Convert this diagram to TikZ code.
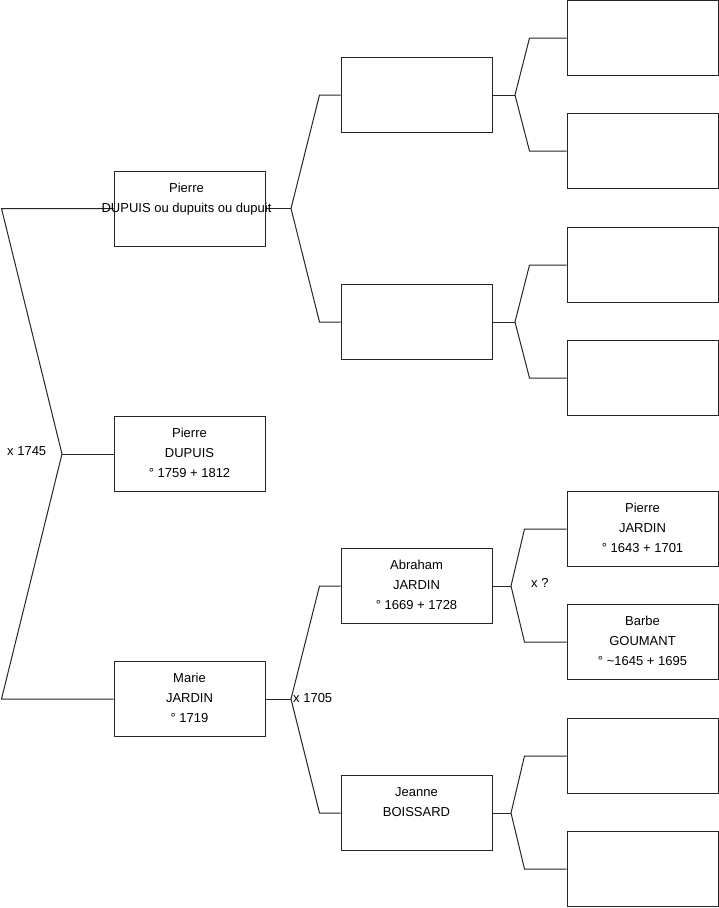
\documentclass[tikz,border=0pt]{standalone}
\usepackage{fontspec}
\setmainfont{Liberation Sans}
\begin{document}
\begin{tikzpicture}[x=1pt,y=-1pt,
  pbox/.style={draw=black!85,line width=1pt,fill=white,minimum width=151pt,minimum height=75pt,inner sep=0pt},
  txt/.style={anchor=north,align=center,inner sep=0pt,font=\fontsize{13pt}{20pt}\selectfont},
  lbl/.style={inner sep=0pt,font=\fontsize{13pt}{15pt}\selectfont},
  link/.style={draw=black!85,line width=1pt,line join=miter}]
\useasboundingbox[fill=white] (0,0) rectangle (719,908);
% boxes
\node[pbox] (g1) at (189.5,454) {};
\node[pbox] (g2a) at (189.5,208.5) {};
\node[pbox] (g2b) at (189.5,699) {};
\node[pbox] (g3a) at (416.5,95) {};
\node[pbox] (g3b) at (416.5,322) {};
\node[pbox] (g3c) at (416.5,586) {};
\node[pbox] (g3d) at (416.5,813) {};
\node[pbox] (g4a) at (642.5,38) {};
\node[pbox] (g4b) at (642.5,151) {};
\node[pbox] (g4c) at (642.5,265) {};
\node[pbox] (g4d) at (642.5,378) {};
\node[pbox] (g4e) at (642.5,529) {};
\node[pbox] (g4f) at (642.5,642) {};
\node[pbox] (g4g) at (642.5,756) {};
\node[pbox] (g4h) at (642.5,869) {};
% fork coordinates
\coordinate (f1) at (62,454);
\coordinate (f1a) at (1.5,208.5);
\coordinate (f1b) at (1.5,699);
\coordinate (f2a) at (291,208.5);
\coordinate (f2aa) at (319.5,95);
\coordinate (f2ab) at (319.5,322);
\coordinate (f2b) at (291,699);
\coordinate (f2ba) at (319.5,586);
\coordinate (f2bb) at (319.5,813);
\coordinate (f3a) at (515,95);
\coordinate (f3aa) at (529.5,38);
\coordinate (f3ab) at (529.5,151);
\coordinate (f3b) at (515,322);
\coordinate (f3ba) at (529.5,265);
\coordinate (f3bb) at (529.5,378);
\coordinate (f3c) at (511,586);
\coordinate (f3ca) at (524.5,529);
\coordinate (f3cb) at (524.5,642);
\coordinate (f3d) at (511,813);
\coordinate (f3da) at (524.5,756);
\coordinate (f3db) at (524.5,869);
% connectors
\draw[link] (g2a.west) -- (f1a) -- (f1) -- (f1b) -- (g2b.west);
\draw[link] (g1.west) -- (f1);
\draw[link] (g3a.west) -- (f2aa) -- (f2a) -- (f2ab) -- (g3b.west);
\draw[link] (g2a.east) -- (f2a);
\draw[link] (g3c.west) -- (f2ba) -- (f2b) -- (f2bb) -- (g3d.west);
\draw[link] (g2b.east) -- (f2b);
\draw[link] (g4a.west) -- (f3aa) -- (f3a) -- (f3ab) -- (g4b.west);
\draw[link] (g3a.east) -- (f3a);
\draw[link] (g4c.west) -- (f3ba) -- (f3b) -- (f3bb) -- (g4d.west);
\draw[link] (g3b.east) -- (f3b);
\draw[link] (g4e.west) -- (f3ca) -- (f3c) -- (f3cb) -- (g4f.west);
\draw[link] (g3c.east) -- (f3c);
\draw[link] (g4g.west) -- (f3da) -- (f3d) -- (f3db) -- (g4h.west);
\draw[link] (g3d.east) -- (f3d);
% texts
\path (g1.north) ++(0,11.7) node[txt] (t1) {\rule{0pt}{10pt}Pierre\\DUPUIS\\° 1759 + 1812};
\path (g2a.north) ++(-3,11.7) node[txt] (t2a) {\rule{0pt}{10pt}Pierre\\DUPUIS ou dupuits ou dupuit};
\path (g2b.north) ++(0,11.7) node[txt] (t2b) {\rule{0pt}{10pt}Marie\\JARDIN\\° 1719};
\path (g3c.north) ++(0,11.7) node[txt] (t3c) {\rule{0pt}{10pt}Abraham\\JARDIN\\° 1669 + 1728};
\path (g3d.north) ++(0,11.7) node[txt] (t3d) {\rule{0pt}{10pt}Jeanne\\BOISSARD};
\path (g4e.north) ++(0,11.7) node[txt] (t4e) {\rule{0pt}{10pt}Pierre\\JARDIN\\° 1643 + 1701};
\path (g4f.north) ++(0,11.7) node[txt] (t4f) {\rule{0pt}{10pt}Barbe\\GOUMANT\\° \textasciitilde1645 + 1695};
% union labels
\node[lbl,anchor=west] (m1) at (7,451) {x 1745};
\node[lbl,anchor=west] (m2) at (293,698) {x 1705};
\node[lbl,anchor=west] (m3) at (531,583) {x ?};
\end{tikzpicture}
\end{document}
